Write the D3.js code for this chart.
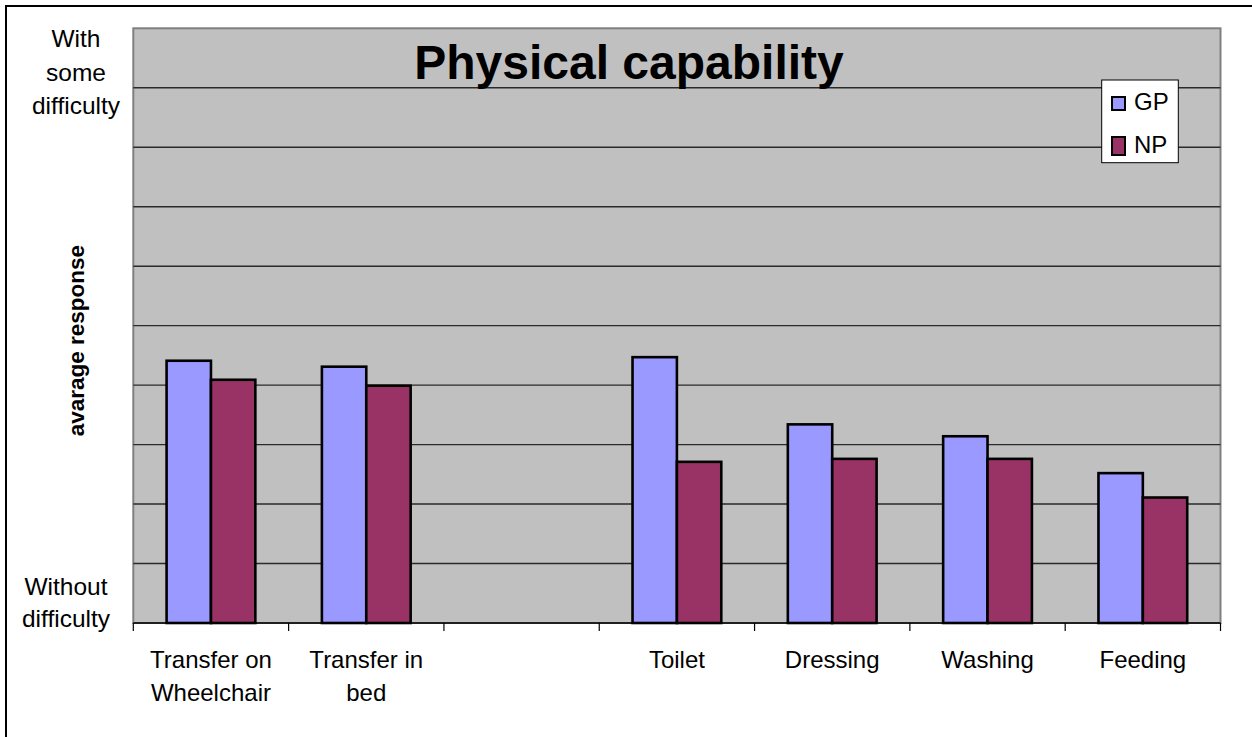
<!DOCTYPE html>
<html>
<head>
<meta charset="utf-8">
<script src="https://cdn.jsdelivr.net/npm/d3@7"></script>
<style>
  html, body { margin: 0; padding: 0; background: #fff; }
  svg { display: block; font-family: "Liberation Sans", Arial, sans-serif; }
</style>
</head>
<body>
<svg id="chart" width="1252" height="737"></svg>
<script>
// Activities (the blank slot is an empty category in the original layout)
const categories = ["Transfer on\nWheelchair", "Transfer in\nbed", "", "Toilet", "Dressing", "Washing", "Feeding"];
const seriesNames = ["GP", "NP"];
const gpValues = [1.441, 1.431, null, 1.447, 1.334, 1.314, 1.252];
const npValues = [1.409, 1.399, null, 1.271, 1.276, 1.276, 1.211];
const yTickValues = [1.1, 1.2, 1.3, 1.4, 1.5, 1.6, 1.7, 1.8, 1.9];
const yEndLabels = [["Without", "difficulty"], ["With", "some", "difficulty"]];
const seriesColors = ["#9999FF", "#993366"];

const svg = d3.select("#chart");
const plot = { left: 133.3, right: 1220.5, top: 28.3, bottom: 623 };

// Outer chart frame
svg.append("rect")
  .attr("x", 6).attr("y", 6)
  .attr("width", 1300).attr("height", 800)
  .attr("fill", "none").attr("stroke", "#000").attr("stroke-width", 2);

const x = d3.scaleBand()
  .domain(d3.range(categories.length))
  .range([plot.left, plot.right])
  .paddingInner(1.5 / 3.5)
  .paddingOuter(0.75 / 3.5);

const x1 = d3.scaleBand()
  .domain(seriesNames)
  .range([0, x.bandwidth()]);

const y = d3.scaleLinear().domain([1, 2]).range([plot.bottom, plot.top]);

// Plot background
svg.append("rect")
  .attr("x", plot.left).attr("y", plot.top)
  .attr("width", plot.right - plot.left).attr("height", plot.bottom - plot.top)
  .attr("fill", "#C0C0C0").attr("stroke", "#808080").attr("stroke-width", 2);

// Gridlines
svg.append("g").selectAll("line").data(yTickValues).join("line")
  .attr("x1", plot.left).attr("x2", plot.right)
  .attr("y1", d => y(d)).attr("y2", d => y(d))
  .attr("stroke", "#2a2a2a").attr("stroke-width", 1.4);

// Bars
const rows = categories.map((c, i) => ({ i, values: [gpValues[i], npValues[i]] }));
const groups = svg.append("g").selectAll("g").data(rows).join("g")
  .attr("transform", d => `translate(${x(d.i)},0)`);
groups.selectAll("rect")
  .data(d => d.values.map((v, k) => ({ v, k })).filter(e => e.v != null))
  .join("rect")
  .attr("x", e => x1(seriesNames[e.k]))
  .attr("width", x1.bandwidth())
  .attr("y", e => y(e.v))
  .attr("height", e => y(1) - y(e.v))
  .attr("fill", e => seriesColors[e.k])
  .attr("stroke", "#000").attr("stroke-width", 2.6);

// Category axis
const xAxis = svg.append("g");
xAxis.append("line")
  .attr("x1", plot.left).attr("x2", plot.right)
  .attr("y1", plot.bottom).attr("y2", plot.bottom)
  .attr("stroke", "#000").attr("stroke-width", 1.5);
const step = x.step();
const boundaries = d3.range(categories.length + 1).map(i => plot.left + i * step);
xAxis.selectAll("line.tick").data(boundaries).join("line")
  .attr("class", "tick")
  .attr("x1", d => d).attr("x2", d => d)
  .attr("y1", plot.bottom).attr("y2", plot.bottom + 8)
  .attr("stroke", "#000").attr("stroke-width", 1.2);

const catLabels = xAxis.selectAll("text").data(rows).join("text")
  .attr("x", d => x(d.i) + x.bandwidth() / 2)
  .attr("y", 668)
  .attr("text-anchor", "middle")
  .attr("font-size", 24)
  .attr("fill", "#000");
catLabels.selectAll("tspan")
  .data(d => categories[d.i].split("\n"))
  .join("tspan")
  .attr("x", function () { return d3.select(this.parentNode).attr("x"); })
  .attr("dy", (d, k) => k === 0 ? 0 : 33)
  .text(d => d);

// Value axis end labels
const bottomLabel = svg.append("text")
  .attr("text-anchor", "middle").attr("font-size", 24.5).attr("fill", "#000");
yEndLabels[0].forEach((t, k) => {
  bottomLabel.append("tspan").attr("x", 66).attr("y", y(1) - 28 + k * 32).text(t);
});
const topLabel = svg.append("text")
  .attr("text-anchor", "middle").attr("font-size", 24.5).attr("fill", "#000");
yEndLabels[1].forEach((t, k) => {
  topLabel.append("tspan").attr("x", 76).attr("y", y(2) + 19 + k * 33.5).text(t);
});

// Axis title
svg.append("text")
  .attr("transform", `translate(84,${(plot.top + plot.bottom) / 2 + 15}) rotate(-90)`)
  .attr("text-anchor", "middle")
  .attr("font-size", 22.5).attr("font-weight", "bold")
  .text("avarage response");

// Chart title
svg.append("text")
  .attr("x", 629).attr("y", 79)
  .attr("text-anchor", "middle")
  .attr("font-size", 48).attr("font-weight", "bold")
  .text("Physical capability");

// Legend
const legend = svg.append("g");
legend.append("rect")
  .attr("x", 1101.7).attr("y", 80)
  .attr("width", 76.6).attr("height", 82.7)
  .attr("fill", "#fff").attr("stroke", "#000").attr("stroke-width", 1);
const swatchH = [13, 18];
const swatchY = [97, 137];
const labelY = [110, 152.5];
seriesNames.forEach((name, k) => {
  legend.append("rect")
    .attr("x", 1112).attr("y", swatchY[k])
    .attr("width", 13).attr("height", swatchH[k])
    .attr("fill", seriesColors[k]).attr("stroke", "#000").attr("stroke-width", 2);
  legend.append("text")
    .attr("x", 1134).attr("y", labelY[k])
    .attr("font-size", 24).attr("fill", "#000")
    .text(name);
});
</script>
</body>
</html>
